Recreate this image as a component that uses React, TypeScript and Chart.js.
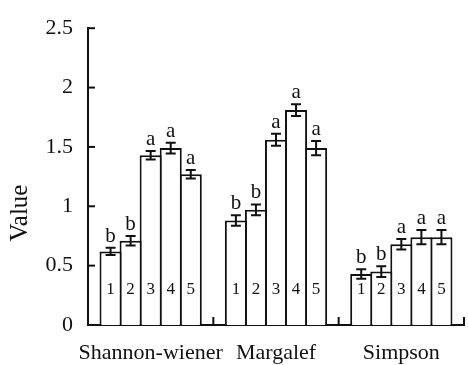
import React, { useEffect, useRef } from "react";
import { Chart, registerables } from "chart.js";

Chart.register(...registerables);

const categories = ["Shannon-wiener", "Margalef", "Simpson"];
const treatments = ["1", "2", "3", "4", "5"];
const values = [
  [0.62, 0.88, 0.43],
  [0.71, 0.97, 0.45],
  [1.43, 1.56, 0.68],
  [1.49, 1.81, 0.74],
  [1.27, 1.49, 0.74],
];
const errors = [
  [0.03, 0.045, 0.04],
  [0.04, 0.045, 0.045],
  [0.035, 0.05, 0.045],
  [0.045, 0.05, 0.06],
  [0.035, 0.06, 0.06],
];
const letters = [
  ["b", "b", "b"],
  ["b", "b", "b"],
  ["a", "a", "a"],
  ["a", "a", "a"],
  ["a", "a", "a"],
];
const yTickLabels = ["0", "0.5", "1", "1.5", "2", "2.5"];
const yTitle = "Value";

const FONT = '"Liberation Serif", "Times New Roman", "DejaVu Serif", serif';
const INK = "#111";

const decorPlugin = {
  id: "decor",
  afterDatasetsDraw(chart: any) {
    const ctx = chart.ctx;
    const xs = chart.scales.x;
    const ys = chart.scales.y;
    const area = chart.chartArea;
    ctx.save();
    ctx.strokeStyle = INK;
    ctx.fillStyle = INK;
    ctx.lineWidth = 2;
    values.forEach((series, i) => {
      const meta = chart.getDatasetMeta(i);
      meta.data.forEach((bar: any, j: number) => {
        const v = series[j];
        const e = errors[i][j];
        const yt = ys.getPixelForValue(v + e);
        const yb = ys.getPixelForValue(v - e);
        const x = bar.x;
        ctx.beginPath();
        ctx.moveTo(x, yt);
        ctx.lineTo(x, yb);
        ctx.moveTo(x - 5, yt);
        ctx.lineTo(x + 5, yt);
        ctx.moveTo(x - 5, yb);
        ctx.lineTo(x + 5, yb);
        ctx.stroke();
        ctx.font = `21px ${FONT}`;
        ctx.textAlign = "center";
        ctx.textBaseline = "alphabetic";
        ctx.fillText(letters[i][j], x, yt - 6);
        ctx.font = `17px ${FONT}`;
        ctx.fillText(treatments[i], x, ys.getPixelForValue(0) - 31);
      });
    });
    ys.ticks.forEach((t: any) => {
      const y = ys.getPixelForValue(t.value);
      ctx.beginPath();
      ctx.moveTo(area.left, y);
      ctx.lineTo(area.left + 7, y);
      ctx.stroke();
    });
    const n = categories.length;
    const cw = (xs.right - xs.left) / n;
    for (let k = 1; k <= n; k++) {
      const x = xs.left + k * cw;
      ctx.beginPath();
      ctx.moveTo(x, area.bottom);
      ctx.lineTo(x, area.bottom - 8);
      ctx.stroke();
    }
    ctx.font = `25px ${FONT}`;
    ctx.textAlign = "center";
    ctx.textBaseline = "middle";
    ctx.translate(20, 213);
    ctx.rotate(-Math.PI / 2);
    ctx.fillText(yTitle, 0, 0);
    ctx.restore();
  },
};

export default function App() {
  const ref = useRef<HTMLCanvasElement | null>(null);
  useEffect(() => {
    document.body.style.margin = "0";
    let chart: any = null;
    let cancelled = false;
    const build = () => {
      if (cancelled || !ref.current) return;
      chart = new Chart(ref.current, {
        type: "bar",
        data: {
          labels: categories,
          datasets: values.map((s, i) => ({
            label: treatments[i],
            data: s,
            backgroundColor: "#ffffff",
            borderColor: INK,
            borderWidth: 2,
            barPercentage: 1.1,
            categoryPercentage: 0.8,
          })),
        },
        options: {
          responsive: false,
          animation: false,
          layout: { padding: { top: 24, right: 4, left: 0, bottom: 0 } },
          plugins: { legend: { display: false }, tooltip: { enabled: false } },
          scales: {
            x: {
              grid: { display: false, drawTicks: false },
              border: { display: true, color: INK, width: 2 },
              ticks: {
                color: INK,
                font: { family: FONT, size: 22 },
                padding: 15,
                maxRotation: 0,
                autoSkip: false,
              },
              afterFit: (s: any) => {
                s.height = 40;
              },
            },
            y: {
              min: 0,
              max: 2.5,
              grid: { display: false, drawTicks: false },
              border: { display: true, color: INK, width: 2 },
              ticks: {
                stepSize: 0.5,
                color: INK,
                font: { family: FONT, size: 22 },
                padding: 15,
                callback: (_v: any, idx: number) => yTickLabels[idx],
              },
              afterFit: (s: any) => {
                s.width = 88;
              },
            },
          },
        },
        plugins: [decorPlugin],
      });
    };
    const fonts: any = (document as any).fonts;
    if (fonts && fonts.load) {
      Promise.all([
        fonts.load('22px "Liberation Serif"'),
        fonts.load('22px "Times New Roman"'),
      ])
        .catch(() => null)
        .then(build);
    } else {
      build();
    }
    return () => {
      cancelled = true;
      if (chart) chart.destroy();
    };
  }, []);
  return (
    <div style={{ width: 468, height: 365, fontFamily: FONT }}>
      <canvas ref={ref} width={468} height={365} />
    </div>
  );
}
